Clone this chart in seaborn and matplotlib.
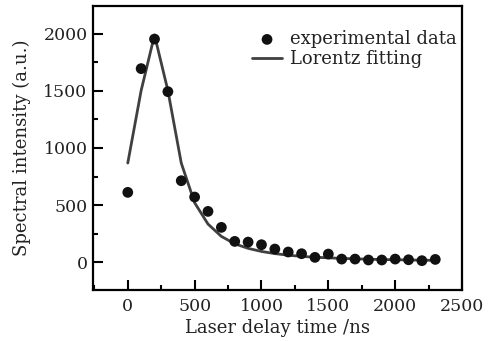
import matplotlib
matplotlib.use("Agg")
import matplotlib.pyplot as plt
import seaborn as sns
import pandas as pd
from matplotlib.ticker import MultipleLocator

# experimental data
delay_ns = [0, 100, 200, 300, 400, 500, 600, 700, 800, 900, 1000, 1100,
            1200, 1300, 1400, 1500, 1600, 1700, 1800, 1900, 2000, 2100, 2200, 2300]
intensity = [611, 1696, 1955, 1494, 713, 570, 444, 304, 181, 175, 152, 114,
             88, 73, 41, 70, 26, 26, 18, 18, 26, 20, 12, 23]
# Lorentz fitting curve
fit_ns = delay_ns
fit_intensity = [868, 1504, 1990, 1504, 868, 520, 333, 225, 160, 120, 93, 74,
                 60, 50, 42, 37, 32, 28, 25, 22, 20, 18, 16, 15]

x_ticks = [0, 500, 1000, 1500, 2000, 2500]
y_ticks = [0, 500, 1000, 1500, 2000]

sns.set_theme(style="ticks")
plt.rcParams["font.family"] = ["DejaVu Serif"]
plt.rcParams["mathtext.fontset"] = "dejavuserif"

FS = 12.5
fig = plt.figure(figsize=(4.99, 3.41), dpi=100)
ax = fig.add_axes([0.1864, 0.1496, 0.7395, 0.8328])

df_exp = pd.DataFrame({"x": delay_ns, "y": intensity})
df_fit = pd.DataFrame({"x": fit_ns, "y": fit_intensity})

sns.scatterplot(data=df_exp, x="x", y="y", ax=ax, color="#111111", s=60,
                edgecolor="none", label="experimental data", zorder=3)
sns.lineplot(data=df_fit, x="x", y="y", ax=ax, color="#404040", linewidth=2.0,
             label="Lorentz fitting", zorder=2)

ax.set_xlim(-260, 2500)
ax.set_ylim(-245, 2245)
ax.set_xticks(x_ticks)
ax.set_yticks(y_ticks)
ax.xaxis.set_minor_locator(MultipleLocator(250))
ax.yaxis.set_minor_locator(MultipleLocator(250))
ax.tick_params(axis="both", which="major", direction="in", length=7, width=1.5,
               labelsize=FS, color="black", labelcolor="#222222")
ax.tick_params(axis="both", which="minor", direction="in", length=3.8, width=1.5,
               color="black")
ax.tick_params(axis="x", which="major", pad=6)
ax.tick_params(axis="y", which="major", pad=4)
for sp in ax.spines.values():
    sp.set_visible(True)
    sp.set_linewidth(1.6)
    sp.set_color("black")

ax.set_xlabel("Laser delay time /ns", fontsize=FS + 0.5, color="#222222", labelpad=3)
ax.set_ylabel("Spectral intensity (a.u.)", fontsize=FS + 0.5, color="#222222", labelpad=9)

leg = ax.legend(loc="upper left", bbox_to_anchor=(0.43, 0.915), frameon=False,
                fontsize=13, handlelength=1.7, handletextpad=0.4,
                labelspacing=0.12, borderaxespad=0.0, borderpad=0.0,
                markerscale=1.0)
for t in leg.get_texts():
    t.set_color("#222222")

fig.savefig("out.png", dpi=100)
